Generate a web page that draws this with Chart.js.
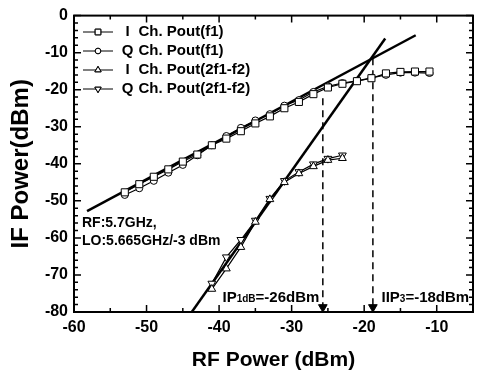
<!DOCTYPE html>
<html>
<head>
<meta charset="utf-8">
<script src="https://cdn.jsdelivr.net/npm/chart.js@4"></script>
<style>
  html, body { margin: 0; padding: 0; background: #fff; }
  #wrap { width: 479px; height: 373px; }
</style>
</head>
<body>
<div id="wrap"><canvas id="ifChart" width="479" height="373"></canvas></div>
<script>
// RF input power (dBm) for the fundamental measurements
const rfF1 = [-53, -51, -49, -47, -45, -43, -41, -39, -37, -35, -33, -31, -29, -27, -25, -23, -21, -19, -17, -15, -13, -11]
const iChF1 = [-47.7, -45.5, -43.5, -41.5, -39.4, -37.5, -35, -33.2, -31.2, -29.1, -27.2, -25, -23.3, -21.2, -19.4, -18.4, -17.7, -16.9, -15.6, -15.2, -15.1, -15.1]
const qChF1 = [-48.4, -46.6, -44.6, -42.4, -40.3, -37.7, -35, -32.5, -30.3, -28.3, -26.6, -24.3, -22.8, -20.6, -19.1, -18.2, -17.6, -16.8, -16, -15.4, -15.4, -15.5]

// RF input power (dBm) for the 2f1-f2 products
const rfIM3 = [-41, -39, -37, -35, -33, -31, -29, -27, -25, -23]
const iChIM3 = [-73.8, -68.3, -62.5, -55.7, -49.6, -45, -42.6, -40.7, -39, -38.5]
const qChIM3 = [-72.3, -65.2, -60.5, -55.3, -49.4, -44.6, -42.2, -40.1, -38.6, -37.7]

// extrapolated fit lines
const fitF1X = [-58.2, -12.9]
const fitF1Y = [-52.8, -5.3]
const fitIM3X = [-44.2, -17.1]
const fitIM3Y = [-81.2, -6.2]

// IP1dB / IIP3 markers
const ip1dbX = -25.7
const ip1dbY = [-22.3, -80]
const iip3X = -18.8
const iip3Y = [-11.5, -80]

const xTicks = [-60, -50, -40, -30, -20, -10]
const yTicks = [0, -10, -20, -30, -40, -50, -60, -70, -80]

const legendNames = ['I', 'Q', 'I', 'Q']
const legendRest = ['Ch. Pout(f1)', 'Ch. Pout(f1)', 'Ch. Pout(2f1-f2)', 'Ch. Pout(2f1-f2)']

const FONT = '"Liberation Sans", Arial, sans-serif'

const pts = (xs, ys) => xs.map((x, i) => ({ x: x, y: ys[i] }))

const seriesStyle = (pointStyle, radius, rotation) => ({
    showLine: true,
    borderColor: '#000',
    borderWidth: 1.2,
    pointStyle: pointStyle,
    pointRadius: radius,
    pointRotation: rotation || 0,
    pointBackgroundColor: '#fff',
    pointBorderColor: '#000',
    pointBorderWidth: 1
})

const markers = [
    ['rect', 5, 0],
    ['circle', 3.5, 0],
    ['triangle', 4.5, 0],
    ['triangle', 4.5, 180]
]

// frame, inward ticks, legend and notes
const decor = {
    id: 'decor',
    afterDraw(chart) {
        const ctx = chart.ctx
        const xs = chart.scales.x
        const ys = chart.scales.y
        const { left, right, top, bottom } = chart.chartArea

        ctx.save()
        ctx.strokeStyle = '#000'
        ctx.lineWidth = 1.5
        for (let v = -60; v <= -5; v += 5) {
            const px = xs.getPixelForValue(v)
            const len = v % 10 === 0 ? 7 : 4
            ctx.beginPath()
            ctx.moveTo(px, bottom); ctx.lineTo(px, bottom - len)
            ctx.moveTo(px, top); ctx.lineTo(px, top + len)
            ctx.stroke()
        }
        for (let v = -80; v <= 0; v += 2) {
            const py = ys.getPixelForValue(v)
            const len = v % 10 === 0 ? 7 : 4
            ctx.beginPath()
            ctx.moveTo(left, py); ctx.lineTo(left + len, py)
            ctx.moveTo(right, py); ctx.lineTo(right - len, py)
            ctx.stroke()
        }
        ctx.lineWidth = 2
        ctx.strokeRect(left, top, right - left, bottom - top)

        // legend
        ctx.fillStyle = '#000'
        ctx.textBaseline = 'middle'
        ctx.font = 'bold 15px ' + FONT
        const rows = [32, 51, 70, 89]
        rows.forEach((ry, i) => {
            ctx.lineWidth = 1
            ctx.beginPath()
            ctx.moveTo(83, ry); ctx.lineTo(113, ry)
            ctx.stroke()
            const m = markers[i]
            Chart.helpers.drawPoint(ctx, {
                pointStyle: m[0], radius: m[1] * 0.8, rotation: m[2], borderWidth: 1
            }, 98, ry)
            ctx.fillStyle = '#fff'
            ctx.fill()
            ctx.stroke()
            ctx.fillStyle = '#000'
            ctx.textAlign = 'center'
            ctx.fillText(legendNames[i], 127.5, ry)
            ctx.textAlign = 'left'
            ctx.fillText(legendRest[i], 138.5, ry)
        })

        // test conditions
        ctx.textBaseline = 'alphabetic'
        ctx.font = 'bold 14px ' + FONT
        ctx.fillText('RF:5.7GHz,', 82, 227)
        ctx.fillText('LO:5.665GHz/-3 dBm', 82, 245)

        // IP1dB / IIP3 labels with subscripts
        const sub = (x, y, parts) => {
            parts.forEach(([txt, size]) => {
                ctx.font = 'bold ' + size + 'px ' + FONT
                ctx.fillText(txt, x, y)
                x += ctx.measureText(txt).width
            })
        }
        sub(222.5, 301.5, [['IP', 15], ['1dB', 10], ['=-26dBm', 15]])
        sub(381.5, 301.5, [['IIP', 15], ['3', 10], ['=-18dBm', 15]])
        ctx.restore()
    }
}

const ifChart = new Chart(document.getElementById('ifChart'), {
    type: 'scatter',
    data: {
        datasets: [
            { label: 'I Ch. Pout(f1)', data: pts(rfF1, iChF1), ...seriesStyle('rect', 5) },
            { label: 'Q Ch. Pout(f1)', data: pts(rfF1, qChF1), ...seriesStyle('circle', 3.5) },
            { label: 'I Ch. Pout(2f1-f2)', data: pts(rfIM3, iChIM3), ...seriesStyle('triangle', 4.5) },
            { label: 'Q Ch. Pout(2f1-f2)', data: pts(rfIM3, qChIM3), ...seriesStyle('triangle', 4.5, 180) },
            {
                label: 'fit f1', data: pts(fitF1X, fitF1Y), showLine: true,
                borderColor: '#000', borderWidth: 2.5, pointRadius: 0
            },
            {
                label: 'fit IM3', data: pts(fitIM3X, fitIM3Y), showLine: true,
                borderColor: '#000', borderWidth: 2.5, pointRadius: 0
            },
            {
                label: 'IP1dB', data: pts([ip1dbX, ip1dbX], ip1dbY), showLine: true,
                borderColor: '#000', borderWidth: 1.5, borderDash: [7, 5], pointRadius: 0
            },
            {
                label: 'IIP3', data: pts([iip3X, iip3X], iip3Y), showLine: true,
                borderColor: '#000', borderWidth: 1.5, borderDash: [7, 5], pointRadius: 0
            },
            {
                label: 'arrows', data: pts([ip1dbX, iip3X], [-78.7, -78.7]), showLine: false,
                pointStyle: 'triangle', pointRotation: 180, pointRadius: 5,
                pointBackgroundColor: '#000', pointBorderColor: '#000'
            }
        ]
    },
    options: {
        responsive: false,
        animation: false,
        layout: { padding: { left: 0, top: 14, right: 4, bottom: 0 } },
        plugins: {
            legend: { display: false },
            tooltip: { enabled: false }
        },
        scales: {
            x: {
                type: 'linear',
                min: -60,
                max: -5,
                afterBuildTicks: (scale) => { scale.ticks = xTicks.map((v) => ({ value: v })) },
                afterFit: (scale) => { scale.height = 61 },
                grid: { display: false, drawTicks: false },
                border: { display: false },
                ticks: {
                    color: '#000',
                    padding: 6,
                    font: { family: FONT, size: 16, weight: 'bold' }
                },
                title: {
                    display: true,
                    text: 'RF Power (dBm)',
                    color: '#000',
                    padding: { top: 6, bottom: 0 },
                    font: { family: FONT, size: 21, weight: 'bold' }
                }
            },
            y: {
                type: 'linear',
                min: -80,
                max: 0,
                afterBuildTicks: (scale) => { scale.ticks = yTicks.map((v) => ({ value: v })) },
                afterFit: (scale) => { scale.width = 74 },
                grid: { display: false, drawTicks: false },
                border: { display: false },
                ticks: {
                    color: '#000',
                    padding: 6,
                    font: { family: FONT, size: 16, weight: 'bold' }
                },
                title: {
                    display: true,
                    text: 'IF Power(dBm)',
                    color: '#000',
                    padding: { top: 7, bottom: 0 },
                    font: { family: FONT, size: 24, weight: 'bold' }
                }
            }
        }
    },
    plugins: [decor]
})
</script>
</body>
</html>
